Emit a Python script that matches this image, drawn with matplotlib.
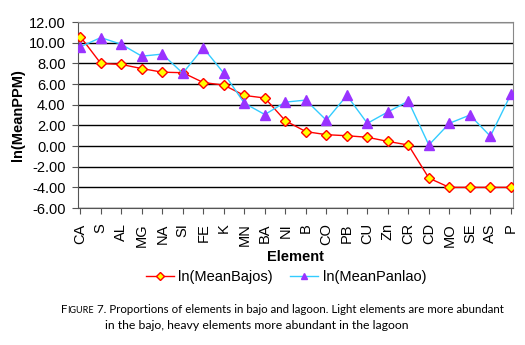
import numpy as np
import matplotlib.pyplot as plt

plt.rcParams['font.family'] = ['Liberation Sans', 'DejaVu Sans']

elements = ['CA', 'S', 'AL', 'MG', 'NA', 'SI', 'FE', 'K', 'MN', 'BA', 'NI',
            'B', 'CO', 'PB', 'CU', 'Zn', 'CR', 'CD', 'MO', 'SE', 'AS', 'P']
bajos = [10.6, 8.0, 7.9, 7.5, 7.15, 7.1, 6.15, 5.9, 4.9, 4.65, 2.45,
         1.4, 1.1, 1.0, 0.85, 0.45, 0.1, -3.1, -4.0, -4.0, -4.0, -4.0]
panlao = [9.6, 10.5, 9.85, 8.7, 8.9, 7.05, 9.5, 7.05, 4.15, 3.05, 4.25,
          4.45, 2.5, 4.9, 2.2, 3.3, 4.35, 0.1, 2.2, 3.0, 0.95, 5.0]

fig = plt.figure(figsize=(5.25, 3.45), dpi=100)
ax = fig.add_axes([0.149, 0.397, 0.828, 0.539])

x = np.arange(len(elements))
ax.plot(x, bajos, color='#ff0000', lw=1, marker='D', ms=5.5,
        mfc='#ffff00', mec='#ff0000', mew=1, label='ln(MeanBajos)', zorder=3)
ax.plot(x, panlao, color='#33ccff', lw=1, marker='^', ms=7,
        mfc='#9933ff', mec='#9933ff', label='ln(MeanPanlao)', zorder=3)

ax.set_xlim(-0.1, len(elements) - 1 + 0.1)
ax.set_ylim(-6, 12)
ax.set_yticks(np.arange(-6, 13, 2))
ax.set_yticklabels([f'{v:.2f}' for v in np.arange(-6, 13, 2)], fontsize=10.5)
ax.set_xticks(x)
ax.set_xticklabels(elements, rotation=90, fontsize=10.5)
ax.yaxis.grid(True, color='black', lw=1)
ax.set_axisbelow(True)
for s in ['top', 'right']:
    ax.spines[s].set_color('#888888')
ax.spines['left'].set_color('#555555')
ax.spines['bottom'].set_color('#555555')
ax.tick_params(direction='out', length=4, color='#555555')
ax.tick_params(axis='y', pad=5)
ax.tick_params(axis='x', pad=7)

ax.set_ylabel('ln(MeanPPM)', fontsize=10.5, fontweight='bold', labelpad=3)
ax.set_xlabel('Element', fontsize=10.5, fontweight='bold', labelpad=2)

fig.legend(loc='center', bbox_to_anchor=(0.545, 0.197), ncol=2, frameon=False,
           fontsize=10.5, handlelength=1.9, columnspacing=1.2, handletextpad=0.3,
           markerscale=0.7)

# caption with small-caps "FIGURE"
cap_font = ['Lato', 'DejaVu Sans']
renderer = fig.canvas.get_renderer()
parts = [('F', 8.3), ('IGURE', 6.5),
         (' 7. Proportions of elements in bajo and lagoon. Light elements are more abundant', 8.3)]
widths = []
for txt, size in parts:
    t = fig.text(0, 0, txt, fontsize=size, family=cap_font)
    widths.append(t.get_window_extent(renderer).width / fig.bbox.width)
    t.remove()
x0 = 282 / 525 - sum(widths) / 2
for (txt, size), w in zip(parts, widths):
    fig.text(x0, 0.093, txt, ha='left', va='baseline', fontsize=size, family=cap_font)
    x0 += w
fig.text(257 / 525, 0.046, 'in the bajo, heavy elements more abundant in the lagoon',
         ha='center', va='baseline', fontsize=8.8, family=cap_font)

fig.savefig('out.png', dpi=100)
